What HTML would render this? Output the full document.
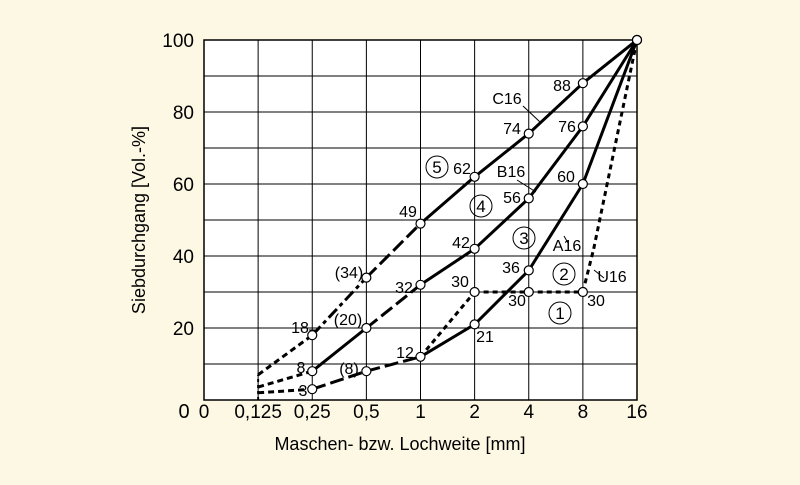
<!DOCTYPE html>
<html><head><meta charset="utf-8"><style>
html,body{margin:0;padding:0;background:#fdf8e4;}
svg{display:block;font-family:"Liberation Sans",sans-serif;}
</style></head><body>
<svg id="c" width="800" height="485" viewBox="0 0 800 485">
<rect x="0" y="0" width="800" height="485" fill="#fdf8e4"/>
<rect x="204" y="40" width="433" height="360" fill="#fff" stroke="#000" stroke-width="1.5"/>
<g id="grid"></g><g id="curves"></g><g id="labels"></g>
<text x="145" y="220" font-size="18" text-anchor="middle" transform="rotate(-90 145 220)">Siebdurchgang [Vol.-%]</text>
<text x="400" y="450" font-size="18" text-anchor="middle">Maschen- bzw. Lochweite [mm]</text>
<text x="184" y="418" font-size="20" text-anchor="middle">0</text>
</svg>
<script>
const xTicks=["0","0,125","0,25","0,5","1","2","4","8","16"];
const yTicks=[0,20,40,60,80,100];
const aIdx=[1,2,3,4,5,6,7,8];
const aVals=[2,3,8,12,21,36,60,100];
const bIdx=[1,2,3,4,5,6,7,8];
const bVals=[3.6,8,20,32,42,56,76,100];
const cIdx=[1,2,3,4,5,6,7,8];
const cVals=[7,18,34,49,62,74,88,100];
const uIdx=[4,5,6,7,7.2,8];
const uVals=[12,30,30,30,42,100];
const NS="http://www.w3.org/2000/svg";
const X=i=>204+i*54.125, Y=v=>400-v*3.6;
function mk(t,a,p){const e=document.createElementNS(NS,t);for(const k in a)e.setAttribute(k,a[k]);p.appendChild(e);return e;}
const g=document.getElementById('grid');
for(let i=1;i<8;i++){const l=mk('line',{x1:X(i),x2:X(i),y1:40,y2:400,stroke:'#000','stroke-width':1},g);

}
for(let v=10;v<100;v+=10){const l=mk('line',{x1:204,x2:637,y1:Y(v),y2:Y(v),stroke:'#000','stroke-width':1},g);

}
xTicks.forEach((t,i)=>{const e=mk('text',{x:X(i),y:418,'font-size':19,'text-anchor':'middle'},g);e.textContent=t;

});
yTicks.forEach(v=>{if(v===0)return;const e=mk('text',{x:194,y:Y(v)+7,'font-size':19,'text-anchor':'end'},g);e.textContent=v;

});
const cv=document.getElementById('curves');
const DOT='6,4',LONG='14,5',DD='12,4,4,4',SOL='';
function curve(idx,vals,styles,name){
 for(let k=0;k<idx.length-1;k++){const s=styles[k]||SOL;
  const l=mk('line',{x1:X(idx[k]),y1:Y(vals[k]),x2:X(idx[k+1]),y2:Y(vals[k+1]),stroke:'#000','stroke-width':3,'stroke-dasharray':s},cv);
  
  }
}
curve(aIdx,aVals,[DOT,LONG,LONG,SOL,SOL,SOL,SOL],'a16');
curve(bIdx,bVals,[DOT,SOL,LONG,SOL,SOL,SOL,SOL],'b16');
curve(cIdx,cVals,[DOT,DD,LONG,SOL,SOL,SOL,SOL],'c16');
curve(uIdx,uVals,['5,4','5,4','5,4','5,4','5,4'],'u16');
const v0=mk('line',{x1:X(1),y1:Y(0),x2:X(1),y2:Y(7),stroke:'#000','stroke-width':2,'stroke-dasharray':'3,3'},cv);


function pts(idx,vals,name){idx.forEach((i,k)=>{if(i<2||i%1)return;const c=mk('circle',{cx:X(i),cy:Y(vals[k]),r:4.5,fill:'#fff',stroke:'#000','stroke-width':1.2},cv);

});}
pts(aIdx,aVals,'a16');pts(bIdx,bVals,'b16');pts(cIdx,cVals,'c16');pts(uIdx.slice(1,4),uVals.slice(1,4),'u16');
const lb=document.getElementById('labels');
const L=[["88",562,91],["C16",507,104],["74",512,134],["76",567,132],["62",462,174],["B16",511,177],["60",566,182],["56",512,203],["49",408,217],["42",461,248],["A16",567,251],["36",511,273],["U16",612,282],["(34)",349,278],["32",404,293],["30",460,287],["30",517,306],["30",596,306],["18",300,333],["(20)",348,325],["12",405,358],["21",485,342],["8",301,373],["(8)",349,374],["3",303,396]];
L.forEach(([t,x,y])=>{const e=mk('text',{x:x,y:y,'font-size':16,'text-anchor':'middle'},lb);e.textContent=t;

});
const C=[["5",437,167],["4",481,206],["3",524,238],["2",564,274],["1",560,313]];
C.forEach(([t,x,y])=>{const c=mk('circle',{cx:x,cy:y,r:11,fill:'none',stroke:'#000','stroke-width':1},lb);


const e=mk('text',{x:x,y:y+6,'font-size':17,'text-anchor':'middle'},lb);e.textContent=t;

});
const leaders=[[523,106,540,122],[517,180,536,192],[564,236,568,243],[594,270,604,278],[309,330,318,330]];
leaders.forEach(a=>{const l=mk('line',{x1:a[0],y1:a[1],x2:a[2],y2:a[3],stroke:'#000','stroke-width':1},lb);

});
</script>
</body></html>
